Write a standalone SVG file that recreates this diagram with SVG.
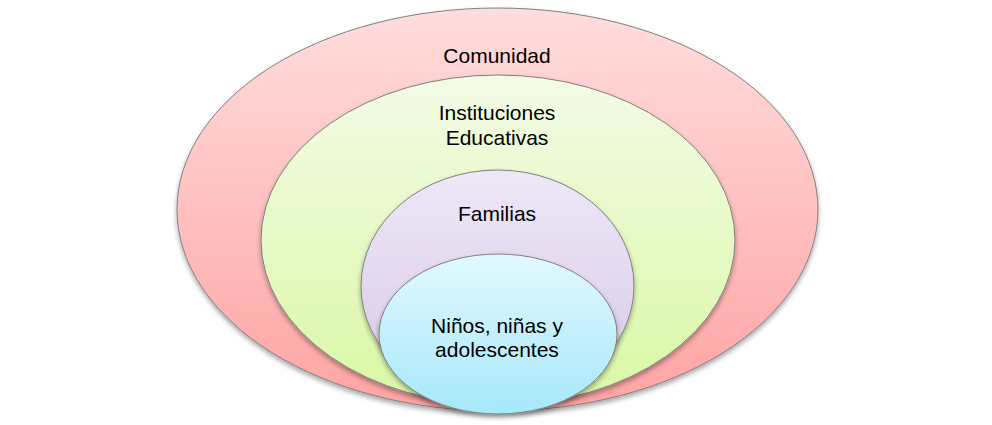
<svg xmlns="http://www.w3.org/2000/svg" width="992" height="425" viewBox="0 0 992 425">
<defs>
<linearGradient id="gRed" x1="0" y1="0" x2="0" y2="1"><stop offset="0" stop-color="#FFDDDD"/><stop offset="1" stop-color="#FFA3A3"/></linearGradient>
<linearGradient id="gGreen" x1="0" y1="0" x2="0" y2="1"><stop offset="0" stop-color="#F3FBE6"/><stop offset="1" stop-color="#D9F8A4"/></linearGradient>
<linearGradient id="gPurple" x1="0" y1="0" x2="0" y2="1"><stop offset="0" stop-color="#EEE8F7"/><stop offset="1" stop-color="#D8C6E8"/></linearGradient>
<linearGradient id="gBlue" x1="0" y1="0" x2="0" y2="1"><stop offset="0" stop-color="#E2F8FE"/><stop offset="1" stop-color="#A6E8FB"/></linearGradient>
<filter id="sh" x="-10%" y="-10%" width="120%" height="125%"><feGaussianBlur in="SourceAlpha" stdDeviation="2.5"/><feOffset dy="3" result="b"/><feComponentTransfer><feFuncA type="linear" slope="0.35"/></feComponentTransfer><feMerge><feMergeNode/><feMergeNode in="SourceGraphic"/></feMerge></filter>
</defs>
<style>
.e{stroke:#808080;stroke-width:1;filter:url(#sh)}
.t{font-family:"Liberation Sans",Arial,sans-serif;font-size:21px;fill:#000;text-anchor:middle}
</style>
<rect width="992" height="425" fill="#FFFFFF"/>
<g id="comunidad">
<ellipse class="e" cx="497.5" cy="209.5" rx="320.5" ry="201.5" fill="url(#gRed)"/>
<text class="t" x="497" y="63">Comunidad</text>
</g>
<g id="instituciones">
<ellipse class="e" cx="498" cy="240" rx="237" ry="165" fill="url(#gGreen)"/>
<text class="t" x="497" y="120">Instituciones</text>
<text class="t" x="497" y="145">Educativas</text>
</g>
<g id="familias">
<ellipse class="e" cx="497.5" cy="286" rx="136.5" ry="116" fill="url(#gPurple)"/>
<text class="t" x="497" y="221">Familias</text>
</g>
<g id="ninos">
<ellipse class="e" cx="498" cy="334" rx="119" ry="80" fill="url(#gBlue)"/>
<text class="t" x="497" y="333">Niños, niñas y</text>
<text class="t" x="497" y="357">adolescentes</text>
</g>
<g id="connectors"/>
</svg>
